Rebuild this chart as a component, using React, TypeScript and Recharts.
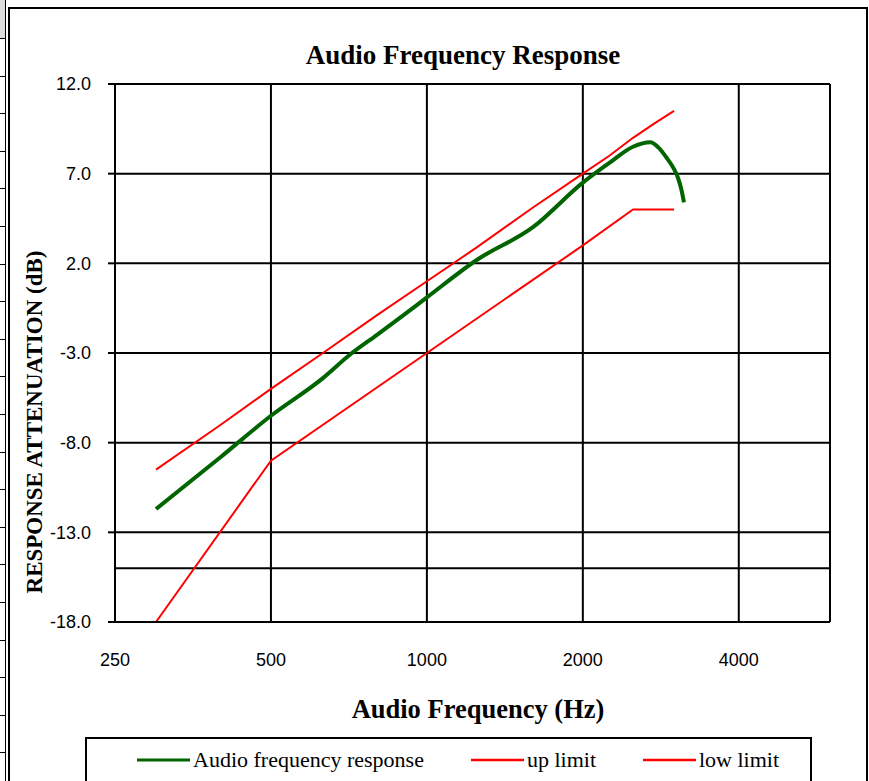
import React from 'react';
import { LineChart, Line, XAxis, YAxis, CartesianGrid, ReferenceLine, Legend } from 'recharts';

// ---- data ----
const responseFreq = [300, 400, 500, 630, 710, 800, 900, 1000, 1250, 1600, 2000, 2250, 2500, 2700, 2800, 2900, 3000, 3050, 3100, 3135];
const responseDb = [-11.7, -8.8, -6.5, -4.4, -3.1, -2.0, -0.9, 0.1, 2.2, 4.0, 6.5, 7.6, 8.5, 8.75, 8.45, 7.9, 7.25, 6.8, 6.1, 5.4];

const upFreq = [300, 400, 500, 630, 800, 1000, 1250, 1600, 2000, 2250, 2500, 2750, 3000];
const upDb = [-9.5, -7.0, -5.0, -3.0, -0.9, 1.0, 2.9, 5.1, 7.0, 8.0, 9.0, 9.8, 10.5];

const lowFreq = [300, 500, 1000, 2000, 2500, 3000];
const lowDb = [-18, -9, -3, 3, 5, 5];

const xTicks = [250, 500, 1000, 2000, 4000];
const xDomain = [250, 6000];
const yTicks = [-18, -13, -8, -3, 2, 7, 12];
const yDomain = [-18, 12];
const extraGridDb = [-15];

const seriesNames = ['Audio frequency response', 'up limit', 'low limit'];

const toPoints = (fs: number[], vs: number[]) => fs.map((f, i) => ({ f, v: vs[i] }));
const responseData = toPoints(responseFreq, responseDb);
const upData = toPoints(upFreq, upDb);
const lowData = toPoints(lowFreq, lowDb);

const GREEN = '#006400';
const RED = '#FF0000';
const SERIF = '"Liberation Serif", "Times New Roman", serif';
const SANS = '"Liberation Sans", Arial, sans-serif';

const legendGaps = [50, 47, 47];

const LegendContent = (props: any) => {
  const payload = [...(props.payload || [])].sort(
    (a: any, b: any) => seriesNames.indexOf(a.value) - seriesNames.indexOf(b.value)
  );
  return (
    <div
      style={{
        boxSizing: 'border-box',
        width: 727,
        height: 70,
        border: '2px solid #000',
        background: '#fff',
        display: 'flex',
        alignItems: 'flex-start',
        paddingTop: 8,
        fontFamily: SERIF,
        fontSize: 22,
        color: '#000',
      }}
    >
      {payload.map((entry: any, i: number) => (
        <div key={i} style={{ display: 'flex', alignItems: 'center', marginLeft: legendGaps[i] }}>
          <svg width={53} height={10} style={{ display: 'block' }}>
            <line x1={0} y1={5} x2={53} y2={5} stroke={entry.color} strokeWidth={i === 0 ? 3 : 2.5} />
          </svg>
          <span style={{ marginLeft: 3, whiteSpace: 'nowrap', lineHeight: '26px' }}>{entry.value}</span>
        </div>
      ))}
    </div>
  );
};

const RowStrip = () => {
  const rows = Array.from({ length: 21 }, (_, i) => i);
  return (
    <div style={{ position: 'absolute', left: 0, top: 0, width: 5, height: 781, borderRight: '1px solid #000' }}>
      <div style={{ position: 'absolute', left: 0, top: 0, width: 5, height: 38, background: '#ddd' }} />
      {rows.map((i) => (
        <div key={i} style={{ position: 'absolute', left: 0, top: 38 + i * 37.6, width: 5, height: 0, borderTop: '1px solid #000' }} />
      ))}
    </div>
  );
};

export default function App() {
  return (
    <div style={{ position: 'absolute', left: 0, top: 0, width: 869, height: 781, overflow: 'hidden', background: '#fff' }}>
      <RowStrip />
      <div
        style={{
          position: 'absolute',
          left: 8,
          top: 7,
          width: 860,
          height: 800,
          boxSizing: 'border-box',
          border: '2px solid #000',
        }}
      />
      <div style={{ position: 'absolute', left: 0, top: 0 }}>
        <LineChart width={869} height={781} margin={{ top: 84, right: 39, left: 0, bottom: 0 }}>
          <CartesianGrid stroke="#000" strokeWidth={2} />
          <XAxis
            dataKey="f"
            type="number"
            scale="log"
            domain={xDomain}
            ticks={xTicks}
            allowDataOverflow
            height={159}
            axisLine={{ stroke: '#000', strokeWidth: 2 }}
            tickLine={false}
            tickSize={0}
            tickMargin={31}
            tick={{ fill: '#000', fontFamily: SANS, fontSize: 18 }}
          />
          <YAxis
            type="number"
            domain={yDomain}
            ticks={yTicks}
            width={115}
            axisLine={{ stroke: '#000', strokeWidth: 2 }}
            tickLine={{ stroke: '#000', strokeWidth: 2 }}
            tickSize={7}
            tickMargin={17}
            tickFormatter={(v: number) => v.toFixed(1)}
            tick={{ fill: '#000', fontFamily: SANS, fontSize: 18 }}
          />
          {extraGridDb.map((y) => (
            <ReferenceLine key={y} y={y} stroke="#000" strokeWidth={2} ifOverflow="extendDomain" />
          ))}
          <ReferenceLine x={xDomain[1]} stroke="#000" strokeWidth={2} />
          <Line
            data={upData}
            dataKey="v"
            name={seriesNames[1]}
            type="linear"
            stroke={RED}
            strokeWidth={2}
            dot={false}
            isAnimationActive={false}
          />
          <Line
            data={lowData}
            dataKey="v"
            name={seriesNames[2]}
            type="linear"
            stroke={RED}
            strokeWidth={2}
            dot={false}
            isAnimationActive={false}
          />
          <Line
            data={responseData}
            dataKey="v"
            name={seriesNames[0]}
            type="monotone"
            stroke={GREEN}
            strokeWidth={4}
            dot={false}
            isAnimationActive={false}
          />
          <Legend
            layout="horizontal"
            verticalAlign="middle"
            align="center"
            content={<LegendContent />}
            wrapperStyle={{ left: 85, top: 737, width: 727, height: 70 }}
          />
          <text x={463} y={64} textAnchor="middle" fontFamily={SERIF} fontWeight="bold" fontSize={27} fill="#000">
            Audio Frequency Response
          </text>
          <text x={478} y={718} textAnchor="middle" fontFamily={SERIF} fontWeight="bold" fontSize={26.5} fill="#000">
            Audio Frequency (Hz)
          </text>
          <text
            x={42}
            y={422}
            textAnchor="middle"
            transform="rotate(-90 42 422)"
            fontFamily={SERIF}
            fontWeight="bold"
            fontSize={23}
            fill="#000"
          >
            RESPONSE ATTENUATION (dB)
          </text>
        </LineChart>
      </div>
    </div>
  );
}
